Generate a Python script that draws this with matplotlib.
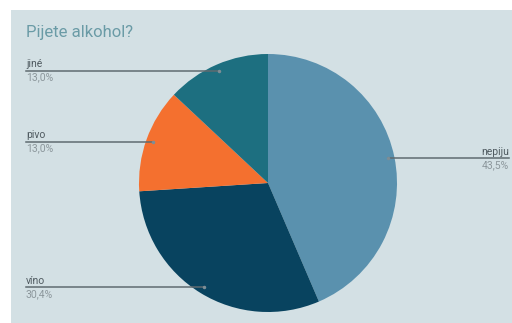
import numpy as np
import matplotlib.pyplot as plt
from matplotlib.patches import Rectangle

# data
labels = ['nepiju', 'víno', 'pivo', 'jiné']
values = [43.5, 30.4, 13.0, 13.0]
pct_text = ['43,5%', '30,4%', '13,0%', '13,0%']
colors = ['#5a91ae', '#08435f', '#f4702f', '#1d6f80']
title = 'Pijete alkohol?'

plt.rcParams['font.family'] = ['Roboto', 'DejaVu Sans']

W, H = 512, 323
fig = plt.figure(figsize=(W / 100, H / 100), dpi=100)
fig.patch.set_facecolor('white')
ax = fig.add_axes([0, 0, 1, 1])

#panel background
ax.add_patch(Rectangle((11, 10), W - 11, H - 10, facecolor='#d3e0e4', edgecolor='none', zorder=0))

cx, cy, R = 268, 183, 129
# y axis is inverted below, so start at -90 and go counterclockwise in data coords
wedges, _ = ax.pie(values, colors=colors, startangle=-90, counterclock=True,
                   center=(cx, cy), radius=R, frame=True)
for w in wedges:
	w.set_zorder(2)
ax.set_xlim(0, W)
ax.set_ylim(H, 0)
ax.set_aspect('auto')
ax.axis('off')

# label lines
total = sum(values)
cum = 0
for i, v in enumerate(values):
	mid = (cum + v / 2) / total * 360
	cum += v
	a = np.deg2rad(mid)
	px = cx + 0.95 * R * np.sin(a)
	py = cy - 0.95 * R * np.cos(a)
	if px > cx:
		lx, ha = 509, 'right'
	else:
		lx, ha = 26, 'left'
	ax.plot([lx, px], [py, py], color='#5f6b70', lw=1.1, zorder=3)
	ax.plot(px, py, 'o', ms=1.5, color='#7d8d95', zorder=4)
	ax.text(lx, py - 1.5, labels[i], ha=ha, va='bottom', fontsize=7.5, color='#4f5a60', zorder=4)
	ax.text(lx, py + 1.5, pct_text[i], ha=ha, va='top', fontsize=7.5, color='#8c979c', zorder=4)

ax.text(26, 33, title, ha='left', va='center', fontsize=12, color='#6a9ba6', zorder=4)

fig.savefig('out.png', dpi=100)
